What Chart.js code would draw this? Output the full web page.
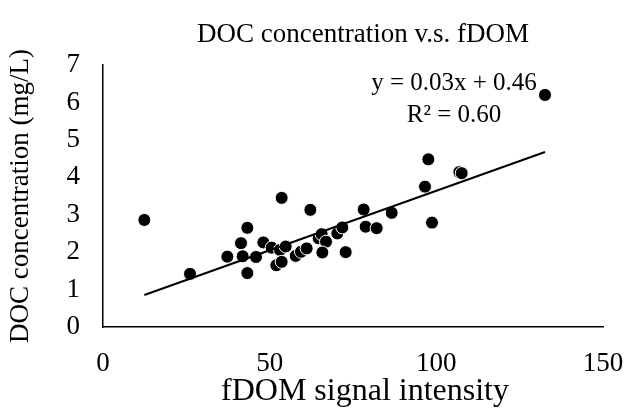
<!DOCTYPE html>
<html>
<head>
<meta charset="utf-8">
<script src="https://cdn.jsdelivr.net/npm/chart.js@4.4.1/dist/chart.umd.min.js"></script>
<style>
  body { margin: 0; background: #fff; }
</style>
</head>
<body>
<canvas id="docChart" width="643" height="418"></canvas>
<script>
// fDOM readings and the DOC measured for each sample
var fdomValues = [12.4, 26.1, 37.3, 41.4, 43.3, 41.9, 43.3, 45.9, 48.1, 50.6,
                  53.1, 54.8, 52.0, 53.6, 53.6, 57.8, 59.4, 61.1, 62.2, 64.7,
                  65.6, 66.9, 65.8, 70.3, 71.8, 72.8, 78.2, 78.8, 82.1, 86.6,
                  96.6, 97.6, 98.7, 106.9, 107.6, 132.6];
var docValues = [2.86, 1.42, 1.88, 2.24, 2.65, 1.89, 1.44, 1.87, 2.26, 2.12,
                 2.06, 2.15, 1.65, 1.74, 3.45, 1.90, 2.01, 2.10, 3.13, 2.37,
                 2.48, 2.28, 1.99, 2.50, 2.66, 2.00, 3.14, 2.68, 2.64, 3.05,
                 3.75, 4.48, 2.79, 4.14, 4.11, 6.20];

var xTicks = [0, 50, 100, 150];
var yTicks = [0, 1, 2, 3, 4, 5, 6, 7];

// linear trendline
var trendSlope = 0.0318;
var trendIntercept = 0.46;
var rSquared = 0.60;

var chartTitle = 'DOC concentration v.s. fDOM';
var xTitle = 'fDOM signal intensity';
var yTitle = 'DOC concentration (mg/L)';

var serif = '"Liberation Serif", "Times New Roman", serif';

var points = fdomValues.map(function (x, i) {
    return { x: x, y: docValues[i] };
});

var xMin = Math.min.apply(null, fdomValues);
var xMax = Math.max.apply(null, fdomValues);
var trendPoints = [
    { x: xMin, y: trendSlope * xMin + trendIntercept },
    { x: xMax, y: trendSlope * xMax + trendIntercept }
];

// chart title, x axis title and the fit equation, placed off the plot area
var textLayer = {
    id: 'textLayer',
    afterDraw: function (chart) {
        var c = chart.ctx;
        var area = chart.chartArea;
        c.save();
        c.fillStyle = '#000';
        c.textAlign = 'center';
        c.textBaseline = 'middle';

        c.font = '27px ' + serif;
        c.fillText(chartTitle, area.left + 260, 35);

        c.font = '32px ' + serif;
        c.fillText(xTitle, area.left + 262, 392);

        var cx = area.left + 351;
        c.font = '25px ' + serif;
        c.fillText('y = ' + trendSlope.toFixed(2) + 'x + ' + trendIntercept.toFixed(2), cx, area.top + 18);
        c.fillText('R² = ' + rSquared.toFixed(2), cx, area.top + 50);
        c.restore();
    }
};

var ctx = document.getElementById('docChart').getContext('2d');
var docChart = new Chart(ctx, {
    type: 'scatter',
    data: {
        datasets: [{
            label: 'Linear fit',
            data: trendPoints,
            showLine: true,
            borderColor: '#000',
            borderWidth: 2,
            pointRadius: 0,
            fill: false
        }, {
            label: 'DOC',
            data: points,
            backgroundColor: '#000',
            borderColor: '#fff',
            borderWidth: 1,
            pointRadius: 6.5
        }]
    },
    options: {
        responsive: false,
        animation: false,
        layout: { padding: { left: 0, right: 40, top: 65, bottom: 0 } },
        plugins: {
            legend: { display: false },
            tooltip: { enabled: false },
            title: { display: false }
        },
        scales: {
            x: {
                type: 'linear',
                min: xTicks[0],
                max: xTicks[xTicks.length - 1],
                afterBuildTicks: function (scale) {
                    scale.ticks = xTicks.map(function (v) { return { value: v }; });
                },
                ticks: {
                    color: '#000',
                    padding: 13,
                    font: { family: serif, size: 27 }
                },
                grid: { display: false },
                border: { display: true, color: '#000', width: 1.5 },
                afterFit: function (scale) {
                    scale.height = 91;
                    scale.paddingLeft = 0;
                    scale.paddingRight = 0;
                }
            },
            y: {
                min: yTicks[0],
                max: yTicks[yTicks.length - 1],
                afterBuildTicks: function (scale) {
                    scale.ticks = yTicks.map(function (v) { return { value: v }; });
                },
                ticks: {
                    color: '#000',
                    padding: 15,
                    font: { family: serif, size: 27 }
                },
                grid: { display: false },
                border: { display: true, color: '#000', width: 1.5 },
                title: {
                    display: true,
                    text: yTitle,
                    color: '#000',
                    font: { family: serif, size: 27 },
                    padding: { top: 5, bottom: 0 }
                },
                afterFit: function (scale) {
                    scale.width = 103;
                    scale.paddingTop = 0;
                    scale.paddingBottom = 0;
                }
            }
        }
    },
    plugins: [textLayer]
});
</script>
</body>
</html>
